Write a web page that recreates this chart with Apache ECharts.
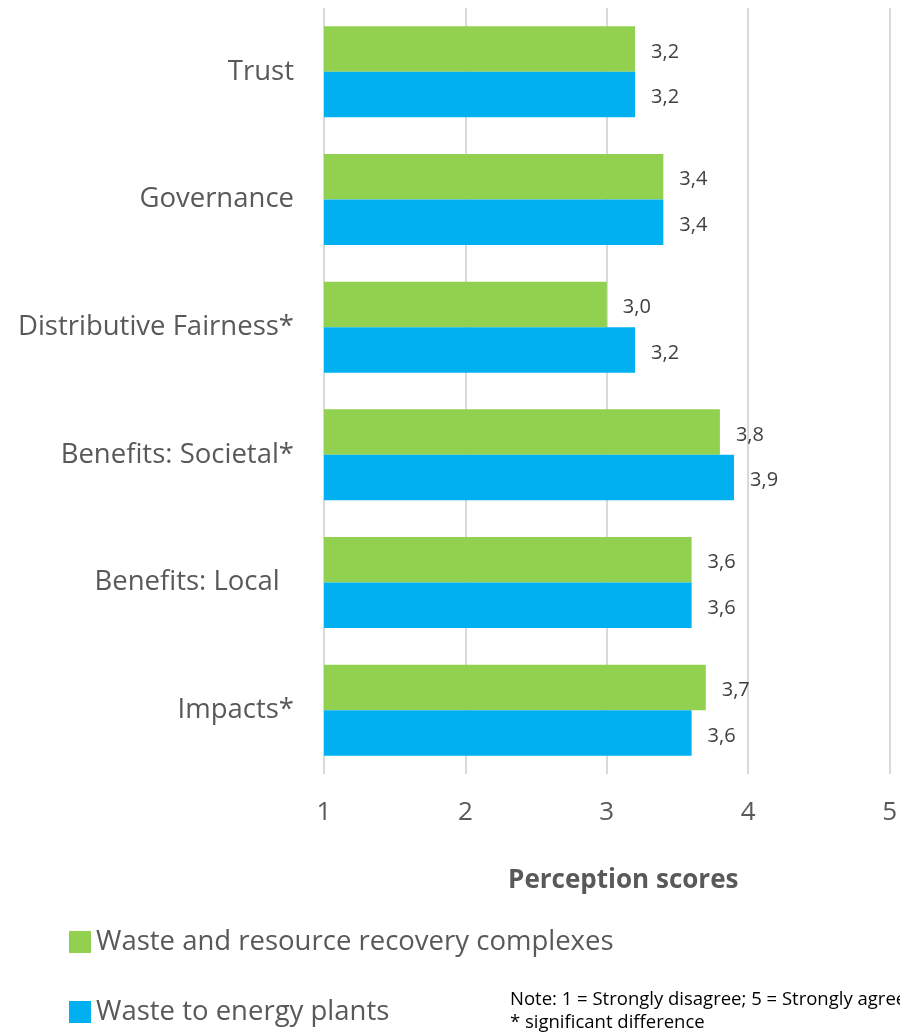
<!DOCTYPE html>
<html>
<head>
<meta charset="utf-8">
<script src="https://cdn.jsdelivr.net/npm/echarts@6/dist/echarts.min.js"></script>
<style>
  html, body { margin: 0; padding: 0; background: #fff; }
  #chart { width: 900px; height: 1033px; }
</style>
</head>
<body>
<div id="chart"></div>
<script>
const categories = ['Trust', 'Governance', 'Distributive Fairness*', 'Benefits: Societal*', 'Benefits: Local  ', 'Impacts*'];
const seriesNames = ['Waste and resource recovery complexes', 'Waste to energy plants'];
const recoveryValues = [3.2, 3.4, 3.0, 3.8, 3.6, 3.7];
const energyValues = [3.2, 3.4, 3.2, 3.9, 3.6, 3.6];
const xTicks = [1, 2, 3, 4, 5];

const chart = echarts.init(document.getElementById('chart'));
const font = 'Open Sans, Noto Sans, sans-serif';

// label "3,2" style, decimal comma
const valueLabel = {
  show: true,
  position: 'right',
  distance: 16,
  offset: [0, 3],
  fontSize: 20,
  fontFamily: font,
  color: '#404040',
  formatter: p => p.value.toFixed(1).replace('.', ',')
};

chart.setOption({
  animation: false,
  grid: { left: 324, right: 9, top: 8, bottom: 259 },
  legend: {
    orient: 'vertical',
    left: 64,
    top: 922,
    height: 140,
    itemWidth: 22,
    itemHeight: 22,
    itemGap: 40,
    icon: 'rect',
    textStyle: { fontSize: 27.5, lineHeight: 30, fontFamily: font, color: '#595959' },
    data: seriesNames
  },
  xAxis: {
    type: 'value',
    min: 1,
    max: 5,
    interval: 1,
    name: 'Perception scores',
    nameLocation: 'middle',
    nameGap: 94,
    nameTextStyle: { fontSize: 26, fontWeight: 'bold', fontFamily: font, color: '#595959', padding: [0, 0, 0, 33] },
    axisLine: { show: false },
    axisTick: { show: false },
    axisLabel: {
      fontSize: 26, fontFamily: font, color: '#595959', margin: 26,
      formatter: v => xTicks.includes(v) ? String(v) : ''
    },
    splitLine: { show: true, lineStyle: { color: '#D9D9D9', width: 2 } }
  },
  yAxis: {
    type: 'category',
    inverse: true,
    data: categories,
    axisLine: { show: false },
    axisTick: { show: false },
    axisLabel: { fontSize: 27.5, fontFamily: font, color: '#595959', margin: 30, padding: [5, 0, 0, 0] }
  },
  series: [
    {
      name: seriesNames[0],
      type: 'bar',
      data: recoveryValues,
      barWidth: 45.5,
      barGap: '0%',
      itemStyle: { color: '#92D050' },
      label: valueLabel
    },
    {
      name: seriesNames[1],
      type: 'bar',
      data: energyValues,
      barWidth: 45.5,
      barGap: '0%',
      itemStyle: { color: '#00B0F0' },
      label: valueLabel
    }
  ],
  graphic: [
    {
      type: 'text',
      left: 510,
      top: 988,
      style: {
        text: 'Note: 1 = Strongly disagree; 5 = Strongly agree\n* significant difference',
        fontSize: 18.5,
        lineHeight: 23,
        fontFamily: font,
        fill: '#000'
      }
    }
  ]
});
</script>
</body>
</html>
